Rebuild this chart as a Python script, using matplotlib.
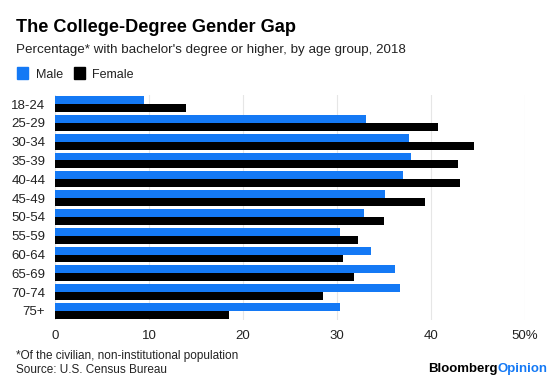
import matplotlib.pyplot as plt
import matplotlib.patches as patches
import numpy as np

# data
ages = ['18-24', '25-29', '30-34', '35-39', '40-44', '45-49',
        '50-54', '55-59', '60-64', '65-69', '70-74', '75+']
male = [9.5, 33.1, 37.7, 37.9, 37.1, 35.1, 32.9, 30.4, 33.7, 36.2, 36.7, 30.3]
female = [13.9, 40.8, 44.6, 42.9, 43.1, 39.4, 35.0, 32.3, 30.7, 31.8, 28.5, 18.5]
xticks = [0, 10, 20, 30, 40, 50]
xticklabels = ['0', '10', '20', '30', '40', '50%']

BLUE = '#1479f5'
plt.rcParams['font.family'] = ['Liberation Sans', 'DejaVu Sans']

W, H = 560, 386
fig = plt.figure(figsize=(W / 100, H / 100), dpi=100, facecolor='w')

# axes placement in pixels: x=0 at 55px, 9.39 px per unit
left_px, right_px = 55, 55 + 50 * 9.39
top_px, bot_px = 94.6, 320.4
ax = fig.add_axes([left_px / W, 1 - bot_px / H,
                   (right_px - left_px) / W, (bot_px - top_px) / H])

y = np.arange(len(ages))
h = 0.42
ax.barh(y - h / 2, male, height=h, color=BLUE, zorder=3)
ax.barh(y + h / 2, female, height=h, color='black', zorder=3)

ax.set_xlim(0, 50)
ax.set_ylim(len(ages) - 0.5, -0.5)
ax.set_yticks(y)
ax.set_yticklabels(ages, fontsize=9.5, color='#222222')
ax.set_xticks(xticks)
ax.set_xticklabels(xticklabels, fontsize=9.5, color='#222222')
ax.tick_params(length=0, pad=7)
ax.tick_params(axis='y', pad=7)
ax.grid(axis='x', color='#e6e6e6', lw=0.8, zorder=0)
for s in ax.spines.values():
    s.set_visible(False)

# titles
fig.text(16 / W, 1 - 28 / H, 'The College-Degree Gender Gap', fontsize=13.1,
         fontweight='bold', va='center', ha='left')
fig.text(16 / W, 1 - 50 / H,
         "Percentage* with bachelor's degree or higher, by age group, 2018",
         fontsize=9.6, va='center', ha='left', color='#222222')

# legend
fig.patches.append(patches.Rectangle((17 / W, 1 - 79 / H), 11 / W, 12 / H,
                                     color=BLUE, transform=fig.transFigure))
fig.text(36 / W, 1 - 78 / H, 'Male', fontsize=9, va='baseline', color='#222222')
fig.patches.append(patches.Rectangle((74 / W, 1 - 79 / H), 11 / W, 12 / H,
                                     color='black', transform=fig.transFigure))
fig.text(92 / W, 1 - 78 / H, 'Female', fontsize=9, va='baseline', color='#222222')

# footer
fig.text(16 / W, 1 - 356 / H, '*Of the civilian, non-institutional population',
         fontsize=8.5, va='center', color='#222222')
fig.text(16 / W, 1 - 370 / H, 'Source: U.S. Census Bureau',
         fontsize=8.5, va='center', color='#222222')
t1 = fig.text(428 / W, 1 - 369 / H, 'Bloomberg', fontsize=9.5, fontweight='bold',
              va='center', ha='left')
fig.canvas.draw()
bb = t1.get_window_extent()
fig.text(bb.x1 / W, 1 - 369 / H, 'Opinion', fontsize=9.5, fontweight='bold',
         va='center', ha='left', color=BLUE)

plt.savefig('out.png', dpi=100, facecolor='w')
plt.close()
